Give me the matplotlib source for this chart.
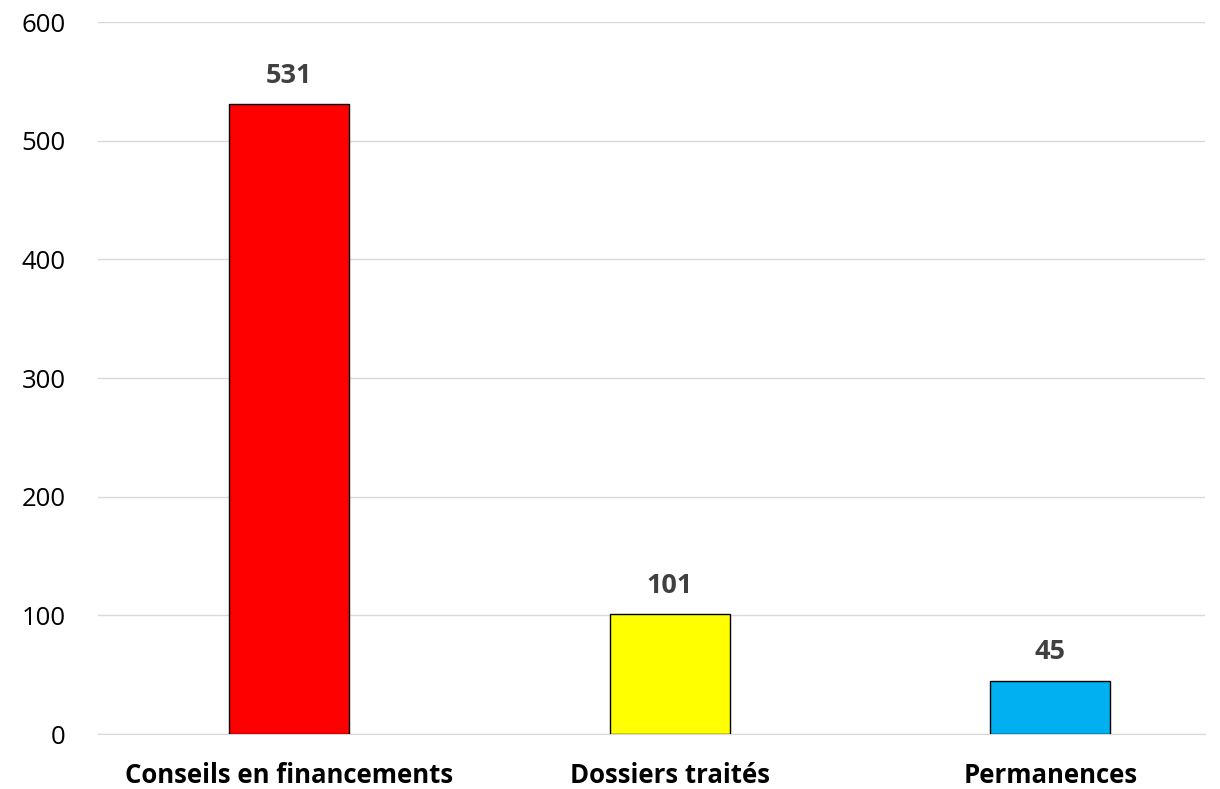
import matplotlib.pyplot as plt

categories = ['Conseils en financements', 'Dossiers traités', 'Permanences']
values = [531, 101, 45]
bar_colors = ['#FF0000', '#FFFF00', '#00B0F0']
y_ticks = [0, 100, 200, 300, 400, 500, 600]

plt.rcParams['font.family'] = ['Open Sans', 'DejaVu Sans']

fig = plt.figure(figsize=(12.2, 7.89), dpi=100)
ax = fig.add_axes([0.080, 0.0697, 0.908, 0.9023])

x = list(range(len(categories)))
bars = ax.bar(x, values, width=0.315, color=bar_colors, edgecolor='black', linewidth=1, zorder=3)

for xi, v in zip(x, values):
    ax.annotate(str(v), (xi, v), xytext=(0, 11), textcoords='offset points',
                ha='center', va='bottom', fontsize=19.5, fontweight='bold', color='#404040')

ax.set_xlim(-0.502, 2.407)
ax.set_ylim(0, 600)
ax.set_yticks(y_ticks)
ax.set_xticks(x)
ax.set_xticklabels(categories, fontsize=18.5, fontweight='bold')
ax.tick_params(axis='y', length=0, labelsize=18.5, pad=23)
ax.tick_params(axis='x', length=0, pad=20)
ax.grid(axis='y', color='#d9d9d9', linewidth=1, zorder=0)

for side in ['top', 'right', 'left']:
    ax.spines[side].set_visible(False)
ax.spines['bottom'].set_color('#d9d9d9')

plt.savefig('out.png')
